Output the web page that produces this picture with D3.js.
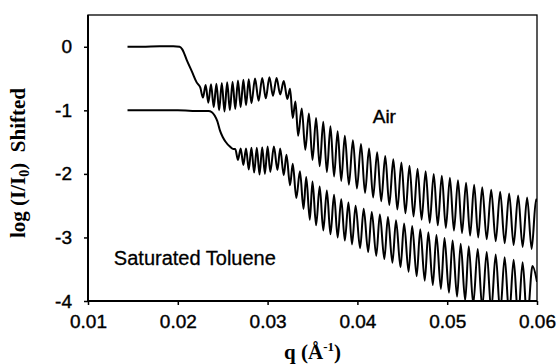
<!DOCTYPE html>
<html>
<head>
<meta charset="utf-8">
<script src="https://cdn.jsdelivr.net/npm/d3@7"></script>
<style>
  body { margin: 0; background: #fff; }
  svg { display: block; }
</style>
</head>
<body>
<div id="app"></div>
<script>
// reflectivity curves (q in 1/A, log(I/I0) shifted)
let airQ = [
  0.0144, 0.0160, 0.0180, 0.0195, 0.0202, 0.0205, 0.0210, 0.0216, 0.0221, 0.0225,
  0.0228, 0.0231, 0.0234, 0.0237, 0.0240, 0.0243, 0.0246, 0.0249, 0.0252, 0.0255,
  0.0258, 0.0261, 0.0264, 0.0267, 0.0270, 0.0273, 0.0276, 0.0279, 0.0282, 0.0286,
  0.0290, 0.0294, 0.0298, 0.0302, 0.0306, 0.0310, 0.0314, 0.0318, 0.0322, 0.0325,
  0.0328, 0.0331, 0.0334, 0.0338, 0.0342, 0.0346, 0.0350, 0.0354, 0.0358, 0.0362,
  0.0366, 0.0370, 0.0374, 0.0378, 0.0382, 0.0386, 0.03905, 0.0395, 0.03995, 0.0404,
  0.04085, 0.0413, 0.04175, 0.0422, 0.04265, 0.0431, 0.04355, 0.0440, 0.04445, 0.0449,
  0.04535, 0.0458, 0.04625, 0.0467, 0.04715, 0.0476, 0.04805, 0.0485, 0.04895, 0.0494,
  0.04985, 0.0503, 0.05075, 0.0512, 0.05165, 0.0521, 0.05255, 0.0530, 0.05345, 0.0539,
  0.0544, 0.0549, 0.0554, 0.0559, 0.0564, 0.0569, 0.0574, 0.0579, 0.0584, 0.0589,
  0.0594, 0.0599, 0.0600
];
let airLog = [
  0.00, 0.00, 0.01, 0.01, 0.00, -0.04, -0.21, -0.40, -0.56, -0.64,
  -0.80, -0.60, -0.88, -0.59, -0.95, -0.58, -1.00, -0.57, -1.02, -0.56,
  -1.00, -0.55, -0.98, -0.53, -0.95, -0.52, -0.92, -0.51, -0.89, -0.50,
  -0.85, -0.49, -0.81, -0.48, -0.77, -0.49, -0.75, -0.54, -0.82, -0.66,
  -1.12, -0.86, -1.40, -0.97, -1.62, -1.05, -1.78, -1.12, -1.88, -1.18,
  -1.97, -1.25, -2.04, -1.33, -2.11, -1.40, -2.17, -1.47, -2.23, -1.53,
  -2.30, -1.60, -2.37, -1.66, -2.43, -1.72, -2.49, -1.77, -2.56, -1.82,
  -2.62, -1.87, -2.67, -1.92, -2.72, -1.96, -2.77, -2.00, -2.81, -2.03,
  -2.85, -2.06, -2.89, -2.10, -2.93, -2.14, -2.97, -2.17, -3.00, -2.21,
  -3.03, -2.25, -3.06, -2.28, -3.09, -2.31, -3.12, -2.34, -3.15, -2.37,
  -3.18, -2.40, -2.44
];

let tolQ = [
  0.0144, 0.0170, 0.0200, 0.0225, 0.0234, 0.0238, 0.0241, 0.0244, 0.0247, 0.0250,
  0.0253, 0.0258, 0.0262, 0.0264, 0.0267, 0.0270, 0.0273, 0.0276, 0.0279, 0.0282,
  0.0285, 0.0288, 0.0291, 0.0294, 0.0297, 0.0300, 0.0303, 0.0307, 0.0311, 0.0314,
  0.0318, 0.0321, 0.0325, 0.0328, 0.0332, 0.0336, 0.0340, 0.0343, 0.0347, 0.0350,
  0.0354, 0.0358, 0.0362, 0.0366, 0.0370, 0.0374, 0.0378, 0.0382, 0.0386, 0.0390,
  0.0394, 0.0398, 0.0403, 0.0407, 0.0412, 0.0416, 0.0421, 0.0425, 0.0430, 0.0434,
  0.0439, 0.0443, 0.0448, 0.0452, 0.0457, 0.0461, 0.0466, 0.0470, 0.0475, 0.0479,
  0.0484, 0.0488, 0.0493, 0.0497, 0.0502, 0.0506, 0.0511, 0.0515, 0.0520, 0.0524,
  0.0529, 0.0534, 0.0539, 0.0544, 0.0549, 0.0554, 0.0559, 0.0564, 0.0569, 0.0574,
  0.0579, 0.0584, 0.0589, 0.0595, 0.0600
];
let tolLog = [
  -1.00, -1.00, -1.00, -1.01, -1.01, -1.03, -1.08, -1.17, -1.32, -1.42,
  -1.49, -1.57, -1.61, -1.61, -1.78, -1.60, -1.86, -1.60, -1.93, -1.59,
  -1.98, -1.59, -2.01, -1.58, -2.00, -1.57, -1.97, -1.57, -1.94, -1.60,
  -2.02, -1.70, -2.18, -1.84, -2.38, -1.96, -2.55, -2.05, -2.72, -2.12,
  -2.81, -2.20, -2.89, -2.26, -2.95, -2.33, -3.00, -2.40, -3.05, -2.45,
  -3.11, -2.50, -3.17, -2.55, -3.23, -2.60, -3.29, -2.64, -3.34, -2.68,
  -3.40, -2.73, -3.47, -2.78, -3.54, -2.82, -3.61, -2.87, -3.68, -2.92,
  -3.75, -2.96, -3.81, -3.01, -3.87, -3.05, -3.93, -3.10, -3.99, -3.14,
  -4.05, -3.18, -4.10, -3.23, -4.15, -3.27, -4.19, -3.31, -4.23, -3.35,
  -4.27, -3.39, -4.31, -3.45, -3.70
];

let xTicks = [0.01, 0.02, 0.03, 0.04, 0.05, 0.06];
let yTicks = [0, -1, -2, -3, -4];

let margin = {
  top: 15,
  right: 22,
  bottom: 63,
  left: 88
}

let width = 559 - margin.left - margin.right;
let height = 364 - margin.top - margin.bottom;

let xScale = d3.scaleLinear()
               .domain([0.01, 0.06])
               .range([0, width])

let yScale = d3.scaleLinear()
               .domain([-4, 0.5])
               .range([height, 0])

let svg = d3.select('#app').append('svg')
    .attr('width', 559)
    .attr('height', 364)
    .style('background', '#fff')

let chart = svg.append('g')
    .attr('transform', `translate(${margin.left}, ${margin.top})`)

// clip so the deep toluene troughs stop at the bottom axis
chart.append('clipPath')
    .attr('id', 'plotClip')
  .append('rect')
    .attr('width', width)
    .attr('height', height)

let line = d3.line()
             .x(function(d) { return xScale(d[0]); })
             .y(function(d) { return yScale(d[1]); })
             .curve(d3.curveMonotoneX)

let series = [
  d3.zip(airQ, airLog),
  d3.zip(tolQ, tolLog)
]

chart.append('g')
    .attr('clip-path', 'url(#plotClip)')
  .selectAll('path')
    .data(series)
    .enter()
    .append('path')
      .attr('d', line)
      .style('fill', 'none')
      .style('stroke', '#000')
      .style('stroke-width', 2)
      .style('stroke-linejoin', 'round')

// axes
let xAxis = d3.axisBottom(xScale)
              .tickValues(xTicks)
              .tickFormat(d3.format('.2f'))
              .tickSize(4)
              .tickSizeOuter(0)
              .tickPadding(10)

let yAxis = d3.axisLeft(yScale)
              .tickValues(yTicks)
              .tickFormat(function(d) { return String(d); })
              .tickSize(4)
              .tickSizeOuter(0)
              .tickPadding(12)

let xGuide = chart.append('g')
    .attr('transform', `translate(0, ${height})`)
    .call(xAxis)

let yGuide = chart.append('g')
    .call(yAxis)

svg.selectAll('.domain').remove()
svg.selectAll('.tick line').style('stroke', '#000').style('stroke-width', 1.5)
svg.selectAll('.tick text')
   .style('font-family', '"Liberation Sans", Arial, sans-serif')
   .style('font-size', '19px')
   .style('fill', '#000')
   .style('stroke', '#000')
   .style('stroke-width', 0.4)

// frame
chart.append('rect')
    .attr('width', width)
    .attr('height', height)
    .style('fill', 'none')
    .style('stroke', '#000')
    .style('stroke-width', 1.3)
chart.append('path')
    .attr('d', `M0,0V${height}H${width}`)
    .style('fill', 'none')
    .style('stroke', '#000')
    .style('stroke-width', 2)

// curve labels
chart.append('text')
    .attr('x', xScale(0.043))
    .attr('y', yScale(-1.2))
    .attr('text-anchor', 'middle')
    .style('font-family', '"Liberation Sans", Arial, sans-serif')
    .style('font-size', '19px')
    .style('stroke', '#000')
    .style('stroke-width', 0.4)
    .text('Air')

chart.append('text')
    .attr('x', xScale(0.0219))
    .attr('y', yScale(-3.43))
    .attr('text-anchor', 'middle')
    .style('font-family', '"Liberation Sans", Arial, sans-serif')
    .style('font-size', '20px')
    .style('stroke', '#000')
    .style('stroke-width', 0.3)
    .text('Saturated Toluene')

// axis titles
let yTitle = svg.append('text')
    .attr('transform', `translate(25, ${margin.top + height / 2 + 5}) rotate(-90)`)
    .attr('text-anchor', 'middle')
    .style('font-family', '"Liberation Serif", "Times New Roman", serif')
    .style('font-weight', 'bold')
    .style('font-size', '21px')
    .style('white-space', 'pre')
yTitle.append('tspan').text('log (I/I')
yTitle.append('tspan').attr('dy', 4).style('font-size', '14px').text('0')
yTitle.append('tspan').attr('dy', -4).text(')  Shifted')

let xTitle = svg.append('text')
    .attr('x', margin.left + width / 2)
    .attr('y', 359)
    .attr('text-anchor', 'middle')
    .style('font-family', '"Liberation Serif", "Times New Roman", serif')
    .style('font-weight', 'bold')
    .style('font-size', '21px')
xTitle.append('tspan').text('q (Å')
xTitle.append('tspan').attr('dy', -8).style('font-size', '13px').text('-1')
xTitle.append('tspan').attr('dy', 8).text(')')
</script>
</body>
</html>
